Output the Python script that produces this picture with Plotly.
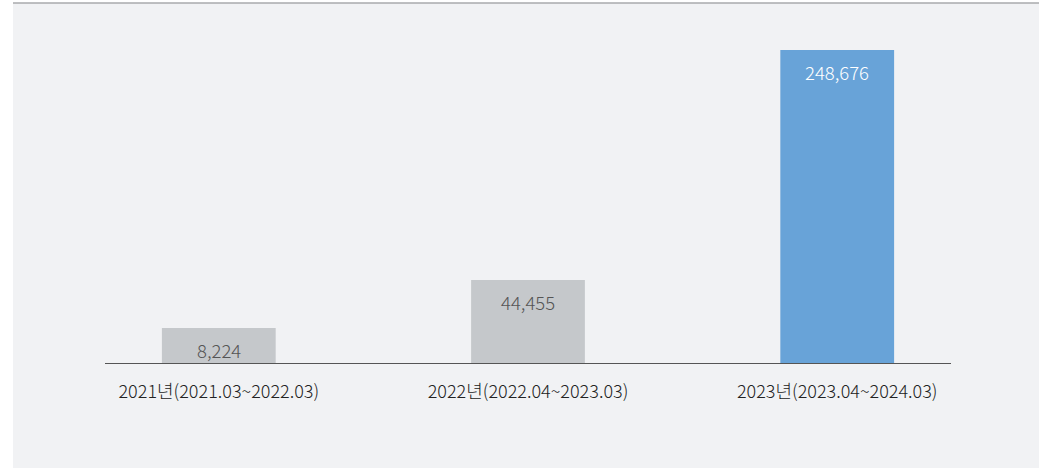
import plotly.graph_objects as go

# Categories (x axis) and the printed values on each bar
categories = ["2021년(2021.03~2022.03)", "2022년(2022.04~2023.03)", "2023년(2023.04~2024.03)"]
values = [8224, 44455, 248676]
# The bars in the source are not to scale; heights,
# as a share of the tallest bar
bar_heights = [0.112, 0.265, 1.0]

BAR_COLORS = ["#c5c8cb", "#c5c8cb", "#68a3d8"]
LABEL_COLORS = ["#555555", "#555555", "#ffffff"]
FONT = "Noto Sans CJK KR, Noto Sans, sans-serif"

# plot area in pixels: x 105..951, y 50..363
L, R, T, B = 105, 88, 50, 105
PW, PH = 1039 - L - R, 468 - T - B

fig = go.Figure()

fig.add_trace(
    go.Bar(
        x=list(range(len(categories))),
        y=bar_heights,
        marker=dict(color=BAR_COLORS, line=dict(width=0)),
        width=0.368,
        hoverinfo="skip",
    )
)

# Value labels near the top of each bar
for i, (v, h) in enumerate(zip(values, bar_heights)):
    fig.add_annotation(
        x=i,
        y=h,
        xref="x",
        yref="y",
        text=f"{v:,}",
        showarrow=False,
        yanchor="middle",
        yshift=-22,
        font=dict(family=FONT, size=18.5, color=LABEL_COLORS[i], weight=300),
    )

fig.update_xaxes(
    tickvals=list(range(len(categories))),
    ticktext=categories,
    range=[-0.368, 2.368],
    showline=True,
    linecolor="#555555",
    linewidth=1,
    showgrid=False,
    zeroline=False,
    ticks="outside",
    ticklen=12,
    tickcolor="rgba(0,0,0,0)",
    tickfont=dict(family=FONT, size=18, color="#222222", weight=300),
)

fig.update_yaxes(
    range=[0, 1.0],
    visible=False,
    showgrid=False,
    zeroline=False,
)

panel_x0 = (13 - L) / PW
panel_x1 = (1039 - L) / PW
panel_top = 1 + (T - 3) / PH

fig.update_layout(
    width=1039,
    height=468,
    margin=dict(l=L, r=R, t=T, b=B),
    paper_bgcolor="#ffffff",
    plot_bgcolor="rgba(0,0,0,0)",
    showlegend=False,
    shapes=[
        # light gray panel behind the chart
        dict(
            type="rect",
            xref="paper",
            yref="paper",
            x0=panel_x0,
            x1=panel_x1,
            y0=-B / PH,
            y1=panel_top,
            fillcolor="#f1f2f4",
            line=dict(width=0),
            layer="below",
        ),
        # thin rule along the top of the panel
        dict(
            type="line",
            xref="paper",
            yref="paper",
            x0=panel_x0,
            x1=panel_x1,
            y0=panel_top,
            y1=panel_top,
            line=dict(color="#a9aaac", width=1.5),
            layer="below",
        ),
    ],
)

fig.write_html(
    "out.html",
    config={"displayModeBar": False},
    post_script="document.body.style.margin='0';",
)
